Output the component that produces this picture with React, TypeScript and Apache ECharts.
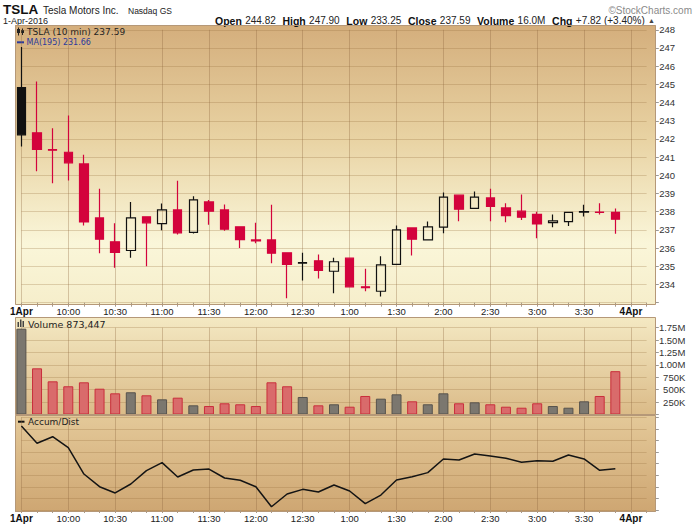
import React, { useEffect, useRef } from 'react';
import * as echarts from 'echarts';

const categories = ['9:30','9:40','9:50','10:00','10:10','10:20','10:30','10:40','10:50','11:00','11:10','11:20','11:30','11:40','11:50','12:00','12:10','12:20','12:30','12:40','12:50','1:00','1:10','1:20','1:30','1:40','1:50','2:00','2:10','2:20','2:30','2:40','2:50','3:00','3:10','3:20','3:30','3:40','3:50','4:00','4:10'];
const dayLabels: Record<string, string> = { '9:30': '1Apr', '4:00': '4Apr' };

const opens = [244.82,242.34,241.42,241.27,240.63,237.66,236.35,235.87,237.72,237.35,238.10,236.86,238.54,238.10,237.17,236.45,236.45,235.74,235.18,235.30,234.73,235.45,233.87,233.63,235.11,237.11,236.45,237.15,238.91,238.18,238.76,238.21,238.03,237.85,237.40,237.46,237.98,237.98,237.96];
const highs = [247.05,245.16,242.59,243.29,241.13,239.26,237.37,238.54,237.75,238.45,239.70,238.85,238.65,238.40,237.20,237.39,238.38,235.76,235.74,235.65,235.47,235.47,234.86,235.56,237.24,237.13,237.46,239.06,238.93,239.11,239.26,238.47,238.95,238.00,237.85,237.98,238.38,238.47,238.18];
const lows = [241.58,240.23,239.57,239.72,237.24,235.72,234.92,235.47,235.00,236.98,236.75,236.80,237.28,236.95,236.00,236.27,235.17,233.25,234.22,234.33,233.52,233.85,233.63,233.34,235.11,235.59,236.45,236.82,237.48,238.18,237.48,237.42,237.55,236.54,237.15,237.22,237.74,237.85,236.79];
const closes = [242.23,241.42,241.38,240.69,237.44,236.49,235.76,237.66,237.39,238.10,236.84,238.65,238.03,237.04,236.47,236.40,235.72,235.11,235.20,234.77,235.25,233.87,233.83,235.08,237.00,236.49,237.17,238.80,238.14,238.80,238.29,237.79,237.70,237.33,237.50,237.96,238.01,237.96,237.59];
const volumes = [1730000,931000,669000,569000,649000,520000,427000,448000,387000,306000,339000,185000,171000,226000,206000,171000,649000,569000,353000,185000,206000,157000,373000,319000,407000,266000,206000,427000,226000,246000,206000,157000,137000,226000,171000,137000,266000,373000,873447];
const accumDist = [7.24,5.75,6.32,5.37,3.10,2.01,1.47,2.24,3.39,4.08,2.84,3.45,3.53,2.76,2.56,2.01,0.28,1.38,1.78,1.55,2.16,1.64,0.55,1.29,2.59,2.87,3.22,4.40,4.31,4.83,4.66,4.46,4.11,4.25,4.20,4.74,4.40,3.42,3.56];

const RED = '#d3033c';
const INK = '#111111';
const SANS = '"Liberation Sans", Arial, sans-serif';
const DJV = '"DejaVu Sans", Verdana, sans-serif';

function gradient(stops: [number, string][]) {
  return new echarts.graphic.LinearGradient(0, 0, 0, 1, stops.map(([offset, color]) => ({ offset, color })));
}

export default function App() {
  const ref = useRef<HTMLDivElement>(null);
  useEffect(() => {
    if (!ref.current) return;
    const chart = echarts.init(ref.current, undefined, { renderer: 'svg' });

    const candleData = opens.map((o, i) => {
      const item: any = { value: [o, closes[i], lows[i], highs[i]] };
      if (i === 0) item.itemStyle = { color0: INK, borderColor0: INK };
      return item;
    });
    const volData = volumes.map((v, i) => {
      const up = i === 0 || closes[i] >= closes[i - 1];
      return {
        value: v,
        itemStyle: up
          ? { color: '#7b776f', borderColor: '#57534d', borderWidth: 1 }
          : { color: '#d96b6b', borderColor: '#c92f3c', borderWidth: 1 },
      };
    });

    const gridLine = { show: true, lineStyle: { color: 'rgba(150,110,60,0.28)', width: 1 } };
    const vLine = { show: true, interval: (i: number) => i % 3 === 0 && i <= 39, lineStyle: { color: 'rgba(140,100,60,0.33)', width: 1 } };
    const labelInterval = (i: number) => i % 3 === 0 && i <= 39;
    const xLabelFmt = (v: string) => (dayLabels[v] ? `{b|${dayLabels[v]}}` : v);
    const xLabelBase = {
      color: '#222', fontSize: 9.5, fontFamily: SANS,
      interval: labelInterval, formatter: xLabelFmt,
      rich: { b: { fontWeight: 'bold', fontSize: 10, color: '#111', fontFamily: SANS } },
    };
    const gridPos = { left: 21.4, width: 625.2 };

    const option: any = {
      animation: false,
      backgroundColor: '#ffffff',
      grid: [
        { ...gridPos, top: 29.8, height: 272.9 },
        { ...gridPos, top: 327.7, height: 86.8 },
        { ...gridPos, top: 417.2, height: 92.8 },
      ],
      xAxis: [
        {
          type: 'category', gridIndex: 0, data: categories, boundaryGap: false,
          axisLine: { show: false },
          axisTick: { show: true, interval: 0, length: 4, lineStyle: { color: '#a89a88' } },
          axisLabel: { ...xLabelBase, margin: 3.5 },
          splitLine: vLine,
        },
        {
          type: 'category', gridIndex: 1, data: categories, boundaryGap: false,
          axisLine: { show: false }, axisTick: { show: false }, axisLabel: { show: false },
          splitLine: vLine,
        },
        {
          type: 'category', gridIndex: 2, data: categories, boundaryGap: false,
          axisLine: { show: false },
          axisTick: { show: true, interval: 0, length: 3, lineStyle: { color: '#a89a88' } },
          axisLabel: { ...xLabelBase, margin: 3 },
          splitLine: vLine,
        },
      ],
      yAxis: [
        {
          type: 'value', gridIndex: 0, position: 'right', offset: 9.2, min: 233, max: 248, interval: 1,
          axisLine: { show: false },
          axisTick: { show: true, length: 3, lineStyle: { color: '#999' } },
          axisLabel: { color: '#333', fontSize: 9.5, fontFamily: SANS, margin: 3.5, formatter: (v: number) => (v >= 234 ? String(v) : '') },
          splitLine: gridLine,
        },
        {
          type: 'value', gridIndex: 1, position: 'right', offset: 9.2, min: 0, max: 1750000, interval: 250000,
          axisLine: { show: false },
          axisTick: { show: true, length: 3, lineStyle: { color: '#999' } },
          axisLabel: {
            color: '#333', fontSize: 9.5, fontFamily: SANS, margin: 29.5, align: 'right',
            formatter: (v: number) => (v === 0 ? '' : v >= 1000000 ? (v / 1000000).toFixed(2) + 'M' : v / 1000 + 'K'),
          },
          splitLine: gridLine,
        },
        {
          type: 'value', gridIndex: 2, position: 'right', offset: 9.2, min: 0, max: 8, interval: 1,
          axisLine: { show: false },
          axisTick: { show: true, length: 3, lineStyle: { color: '#999' } },
          axisLabel: { show: false },
          splitLine: gridLine,
        },
      ],
      series: [
        {
          type: 'candlestick', xAxisIndex: 0, yAxisIndex: 0, data: candleData, barWidth: 9, clip: false,
          itemStyle: { color: 'rgba(0,0,0,0)', color0: RED, borderColor: INK, borderColor0: RED, borderWidth: 1.2 },
        },
        { type: 'bar', xAxisIndex: 1, yAxisIndex: 1, data: volData, barWidth: 10, clip: false },
        {
          type: 'line', xAxisIndex: 2, yAxisIndex: 2, data: accumDist, symbol: 'none',
          lineStyle: { color: '#141414', width: 1.5 },
        },
      ],
      graphic: [
        // panel backgrounds
        { type: 'rect', z: -10, silent: true, shape: { x: 15, y: 25, width: 640.7, height: 280 },
          style: { fill: gradient([[0, '#d4ae7c'], [0.4, '#e8d2a2'], [0.78, '#faf6d9'], [1, '#f6eecb']]) } },
        { type: 'rect', z: -10, silent: true, shape: { x: 15, y: 317, width: 640.7, height: 98 },
          style: { fill: gradient([[0, '#f4e9c3'], [1, '#dbbb88']]) } },
        { type: 'rect', z: -10, silent: true, shape: { x: 15, y: 415, width: 640.7, height: 97 },
          style: { fill: gradient([[0, '#e4c999'], [1, '#cea672']]) } },
        // borders
        { type: 'rect', z: 50, silent: true, shape: { x: 15.5, y: 25.5, width: 640, height: 279 },
          style: { fill: 'none', stroke: '#b59878', lineWidth: 1 } },
        { type: 'rect', z: 50, silent: true, shape: { x: 15.5, y: 317.5, width: 640, height: 97 },
          style: { fill: 'none', stroke: '#b59878', lineWidth: 1 } },
        { type: 'rect', z: 50, silent: true, shape: { x: 15.5, y: 415.5, width: 640, height: 96 },
          style: { fill: 'none', stroke: '#b59878', lineWidth: 1 } },
        // header
        { type: 'text', x: 3, y: 9.5, style: { text: 'TSLA', fill: '#111', fontSize: 13.5, fontWeight: 'bold', fontFamily: SANS, verticalAlign: 'middle' } },
        { type: 'text', x: 43, y: 10.5, style: { text: 'Tesla Motors Inc.', fill: '#222', fontSize: 10, fontFamily: SANS, verticalAlign: 'middle' } },
        { type: 'text', x: 128, y: 11, style: { text: 'Nasdaq GS', fill: '#222', fontSize: 8.5, fontFamily: SANS, verticalAlign: 'middle' } },
        { type: 'text', x: 3, y: 21, style: { text: '1-Apr-2016', fill: '#222', fontSize: 9, fontFamily: SANS, verticalAlign: 'middle' } },
        { type: 'text', x: 692, y: 10, style: { text: '©StockCharts.com', fill: '#8a8a8a', fontSize: 10, fontFamily: SANS, align: 'right', verticalAlign: 'middle' } },
        {
          type: 'text', x: 655, y: 20.5,
          style: {
            text: '{b|Open} {v|244.82}  {b|High} {v|247.90}  {b|Low} {v|233.25}  {b|Close} {v|237.59}  {b|Volume} {v|16.0M}  {b|Chg} {v|+7.82 (+3.40%)} {t|▲}',
            align: 'right', verticalAlign: 'middle',
            rich: {
              b: { fontWeight: 'bold', fontSize: 10.5, fill: '#111', fontFamily: SANS },
              v: { fontSize: 10, fill: '#222', fontFamily: SANS },
              t: { fontSize: 7, fill: '#444', fontFamily: SANS },
            },
          },
        },
        // price legend
        { type: 'line', shape: { x1: 18.5, y1: 27.5, x2: 18.5, y2: 35.5 }, style: { stroke: '#222', lineWidth: 1 } },
        { type: 'rect', shape: { x: 17, y: 29, width: 3, height: 4 }, style: { fill: '#222' } },
        { type: 'line', shape: { x1: 22.5, y1: 28.5, x2: 22.5, y2: 35 }, style: { stroke: '#222', lineWidth: 1 } },
        { type: 'rect', shape: { x: 21, y: 30, width: 3, height: 3 }, style: { fill: '#222' } },
        { type: 'text', x: 27, y: 31.7, style: { text: 'TSLA (10 min) 237.59', fill: '#222', fontSize: 9, fontFamily: DJV, verticalAlign: 'middle' } },
        { type: 'line', shape: { x1: 17, y1: 42.3, x2: 24, y2: 42.3 }, style: { stroke: '#2b3a9c', lineWidth: 2 } },
        { type: 'text', x: 26.5, y: 42.3, style: { text: 'MA(195) 231.66', fill: '#2b3a9c', fontSize: 8, fontFamily: DJV, verticalAlign: 'middle' } },
        // volume legend
        { type: 'rect', shape: { x: 17.5, y: 322, width: 1.5, height: 5 }, style: { fill: '#444' } },
        { type: 'rect', shape: { x: 20, y: 319.5, width: 1.5, height: 7.5 }, style: { fill: '#444' } },
        { type: 'rect', shape: { x: 22.5, y: 321, width: 1.5, height: 6 }, style: { fill: '#444' } },
        { type: 'text', x: 28, y: 324, style: { text: 'Volume 873,447', fill: '#222', fontSize: 9.5, fontFamily: DJV, verticalAlign: 'middle' } },
        // accum legend
        { type: 'line', shape: { x1: 18, y1: 421.7, x2: 24.5, y2: 421.7 }, style: { stroke: '#111', lineWidth: 2 } },
        { type: 'text', x: 28, y: 421.7, style: { text: 'Accum/Dist', fill: '#222', fontSize: 9, fontFamily: DJV, verticalAlign: 'middle' } },
      ],
    };
    chart.setOption(option);
    return () => chart.dispose();
  }, []);
  return <div ref={ref} style={{ position: 'fixed', left: 0, top: 0, width: 700, height: 526 }} />;
}
